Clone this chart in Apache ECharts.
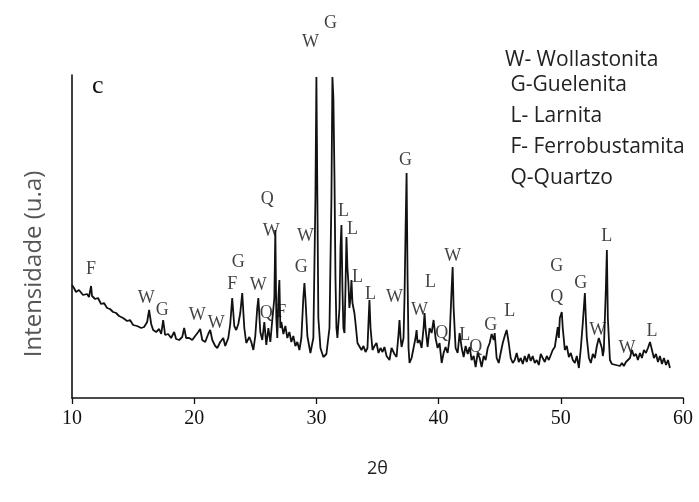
<!DOCTYPE html>
<html>
<head>
<meta charset="utf-8">
<script src="https://cdn.jsdelivr.net/npm/echarts@6/dist/echarts.min.js"></script>
<style>
  html, body { margin: 0; padding: 0; background: #fff; }
  #chart { width: 699px; height: 502px; }
</style>
</head>
<body>
<div id="chart"></div>
<script>
const twoTheta = [
  10.0, 10.16, 10.33, 10.57, 10.9, 11.23, 11.39, 11.56, 11.64, 11.89, 12.13, 12.38, 12.62, 12.87, 13.11, 13.36,
  13.61, 13.85, 14.18, 14.51, 14.75, 15.0, 15.33, 15.66, 15.9, 16.15, 16.31, 16.48, 16.64, 16.89, 17.13, 17.3,
  17.46, 17.62, 17.87, 18.11, 18.36, 18.52, 18.77, 19.02, 19.18, 19.34, 19.59, 19.84, 20.08, 20.33, 20.49, 20.66,
  20.9, 21.15, 21.31, 21.48, 21.72, 21.89, 22.13, 22.38, 22.54, 22.79, 22.95, 23.11, 23.28, 23.44, 23.61, 23.77,
  23.93, 24.1, 24.26, 24.51, 24.67, 24.84, 25.0, 25.16, 25.25, 25.41, 25.57, 25.74, 25.9, 26.07, 26.23, 26.39,
  26.56, 26.64, 26.72, 26.8, 26.89, 26.97, 27.05, 27.13, 27.3, 27.46, 27.62, 27.79, 27.95, 28.11, 28.28, 28.44,
  28.61, 28.77, 28.93, 29.02, 29.1, 29.26, 29.51, 29.75, 29.92, 30.0, 30.08, 30.16, 30.33, 30.57, 30.82, 31.07,
  31.23, 31.31, 31.39, 31.48, 31.56, 31.64, 31.72, 31.89, 31.97, 32.05, 32.13, 32.21, 32.3, 32.38, 32.46, 32.54,
  32.62, 32.7, 32.79, 32.87, 32.95, 33.03, 33.11, 33.2, 33.36, 33.52, 33.69, 33.85, 34.02, 34.18, 34.26, 34.34,
  34.43, 34.59, 34.75, 34.92, 35.08, 35.25, 35.41, 35.57, 35.74, 35.98, 36.15, 36.23, 36.39, 36.56, 36.72, 36.8,
  36.89, 36.97, 37.13, 37.21, 37.3, 37.38, 37.46, 37.54, 37.62, 37.79, 37.95, 38.11, 38.2, 38.28, 38.44, 38.61,
  38.77, 38.85, 38.93, 39.1, 39.26, 39.43, 39.59, 39.75, 39.92, 40.08, 40.25, 40.41, 40.57, 40.74, 40.9, 41.07,
  41.15, 41.23, 41.39, 41.56, 41.72, 41.89, 42.05, 42.21, 42.38, 42.54, 42.7, 42.87, 43.03, 43.2, 43.36, 43.52,
  43.69, 43.85, 44.02, 44.18, 44.34, 44.51, 44.59, 44.75, 44.92, 45.08, 45.25, 45.41, 45.57, 45.74, 45.9, 46.07,
  46.23, 46.39, 46.56, 46.72, 46.89, 47.05, 47.21, 47.38, 47.54, 47.7, 47.87, 48.03, 48.2, 48.36, 48.52, 48.69,
  48.85, 49.02, 49.18, 49.34, 49.51, 49.67, 49.75, 49.84, 49.92, 50.08, 50.16, 50.33, 50.49, 50.66, 50.82, 50.98,
  51.15, 51.31, 51.48, 51.64, 51.8, 51.97, 52.05, 52.13, 52.3, 52.46, 52.62, 52.79, 52.95, 53.11, 53.2, 53.36,
  53.44, 53.52, 53.69, 53.77, 53.85, 54.02, 54.18, 54.34, 54.51, 54.67, 54.84, 55.0, 55.16, 55.33, 55.49, 55.66,
  55.82, 55.98, 56.15, 56.31, 56.48, 56.64, 56.8, 56.97, 57.13, 57.3, 57.46, 57.62, 57.79, 57.95, 58.11, 58.28,
  58.44, 58.61, 58.77, 58.93
];
const intensity = [
  113, 110, 106, 108, 103, 104, 101, 112, 102, 99, 100, 94, 95, 90, 89, 86,
  85, 82, 80, 77, 78, 73, 72, 70, 71, 76, 88, 74, 68, 66, 69, 64,
  78, 63, 64, 60, 66, 59, 58, 61, 70, 60, 60, 58, 62, 66, 69, 58,
  56, 64, 68, 58, 52, 50, 56, 60, 52, 60, 74, 100, 72, 68, 74, 85,
  105, 70, 55, 61, 56, 48, 62, 90, 100, 66, 58, 76, 53, 70, 56, 78,
  100, 168, 80, 60, 100, 118, 70, 76, 64, 72, 60, 66, 56, 62, 52, 56,
  48, 60, 100, 115, 100, 62, 45, 60, 200, 321, 200, 80, 50, 41, 44, 70,
  200, 321, 300, 220, 120, 70, 60, 90, 150, 173, 110, 70, 65, 110, 161, 130,
  115, 90, 100, 118, 95, 90, 85, 75, 55, 56, 48, 52, 46, 50, 75, 98,
  70, 48, 52, 55, 45, 50, 46, 51, 42, 38, 50, 52, 44, 41, 64, 78,
  60, 51, 60, 100, 170, 225, 120, 50, 35, 40, 50, 60, 68, 55, 58, 50,
  70, 85, 70, 51, 70, 65, 78, 60, 50, 55, 35, 45, 51, 45, 60, 110,
  131, 90, 50, 45, 65, 50, 41, 52, 44, 51, 38, 42, 31, 45, 40, 31,
  42, 38, 50, 55, 64, 58, 65, 40, 35, 45, 55, 62, 68, 55, 40, 35,
  38, 45, 36, 40, 34, 42, 36, 44, 37, 42, 35, 38, 33, 44, 40, 36,
  42, 38, 40, 48, 51, 64, 71, 60, 80, 86, 70, 48, 52, 41, 45, 38,
  35, 42, 30, 50, 75, 105, 80, 60, 40, 35, 44, 40, 52, 60, 62, 50,
  42, 48, 110, 148, 80, 38, 34, 36, 33, 35, 32, 35, 32, 36, 34, 40,
  48, 42, 44, 38, 45, 40, 48, 45, 50, 56, 48, 40, 44, 36, 42, 34,
  40, 33, 38, 30
];

// identificação das fases sobre os picos
const peakLetter = ['F', 'W', 'G', 'W', 'W', 'F', 'G', 'W', 'Q', 'F', 'Q', 'W', 'W', 'G', 'W', 'G',
  'L', 'L', 'L', 'L', 'W', 'G', 'W', 'L', 'W', 'Q', 'L', 'Q', 'G', 'L', 'G', 'Q', 'G', 'W', 'L', 'W', 'L'];
const peakX = [11.56, 16.07, 17.38, 20.25, 21.8, 23.11, 23.6, 25.25, 25.9, 27.13, 25.98, 26.31, 29.1, 28.77, 29.51, 31.15,
  32.21, 32.95, 33.36, 34.43, 36.39, 37.3, 38.44, 39.34, 41.15, 40.25, 42.13, 43.03, 44.26, 45.82, 49.67, 49.67, 51.64, 53.03, 53.77, 55.41, 57.46];
const peakY = [129, 100, 88, 83, 75, 114, 136, 113, 85, 86, 199, 167, 162, 131, 356, 375,
  187, 169, 121, 104, 101, 238, 88, 116, 142, 65, 63, 51, 73, 87, 132, 101, 115, 68, 162, 50, 67];

const legendLines = ['W- Wollastonita', ' G-Guelenita', ' L- Larnita', ' F- Ferrobustamita', ' Q-Quartzo'];
const legendTop = [60, 85, 116, 147, 178];

const chart = echarts.init(document.getElementById('chart'));

chart.setOption({
  animation: false,
  backgroundColor: '#fff',
  grid: { left: 72, right: 16, top: 75, bottom: 104 },
  xAxis: {
    type: 'value',
    min: 10, max: 60, interval: 10,
    name: '2θ',
    nameLocation: 'middle',
    nameGap: 62,
    nameTextStyle: { fontFamily: 'Open Sans', fontSize: 18, color: '#222' },
    axisLine: { lineStyle: { color: '#111', width: 1.6 } },
    axisTick: { show: true, inside: false, length: 6, lineStyle: { color: '#111', width: 1.3 } },
    axisLabel: { fontFamily: 'Liberation Serif', fontSize: 20, color: '#111', margin: 11 },
    splitLine: { show: false }
  },
  yAxis: {
    type: 'value',
    min: 0, max: 323,
    axisLine: { show: true, lineStyle: { color: '#111', width: 1.6 } },
    axisTick: { show: false },
    axisLabel: { show: false },
    splitLine: { show: false }
  },
  series: [{
    type: 'line',
    data: twoTheta.map((t, i) => [t, intensity[i]]),
    showSymbol: false,
    lineStyle: { color: '#111', width: 1.8 },
    z: 2
  }, {
    type: 'scatter',
    clip: false,
    symbolSize: 1,
    itemStyle: { color: 'rgba(0,0,0,0)' },
    data: peakX.map((x, i) => [x, peakY[i], peakLetter[i]]),
    label: {
      show: true,
      position: 'inside',
      formatter: p => p.value[2],
      fontFamily: 'Liberation Serif',
      fontSize: 18,
      color: '#111'
    },
    z: 3
  }],
  graphic: [{
    type: 'text',
    left: 92, top: 73,
    style: { text: 'c', font: '26px "Liberation Serif"', fill: '#111' }
  }, {
    type: 'text',
    x: 34, y: 264,
    rotation: Math.PI / 2,
    style: {
      text: 'Intensidade (u.a)',
      font: '24px "Open Sans"',
      fill: '#555',
      align: 'center',
      verticalAlign: 'middle'
    }
  }].concat(legendLines.map((t, i) => ({
    type: 'text',
    x: 505, y: legendTop[i],
    style: {
      text: t,
      font: '21px "Open Sans"',
      fill: '#222',
      align: 'left',
      verticalAlign: 'middle'
    }
  })))
});
</script>
</body>
</html>
